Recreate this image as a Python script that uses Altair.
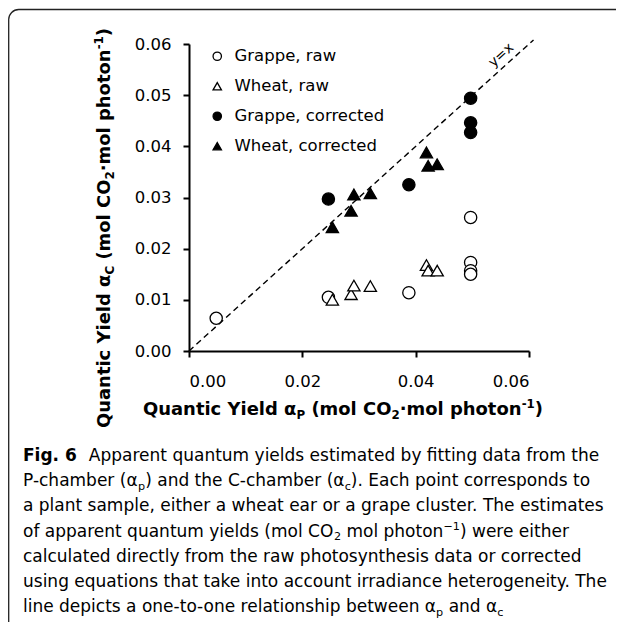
import os, glob, struct
import altair as alt
import pandas as pd

# ---------------- data ----------------
series_names = ["Grappe, raw", "Wheat, raw", "Grappe, corrected", "Wheat, corrected"]

grappe_raw_ap = [0.0048, 0.0246, 0.0388, 0.0497, 0.0497, 0.0497, 0.0497]
grappe_raw_ac = [0.0064, 0.0105, 0.0114, 0.0261, 0.0173, 0.0157, 0.0150]

wheat_raw_ap = [0.0253, 0.0286, 0.0291, 0.0320, 0.0419, 0.0422, 0.0438]
wheat_raw_ac = [0.0100, 0.0111, 0.0128, 0.0127, 0.0168, 0.0157, 0.0157]

grappe_cor_ap = [0.0246, 0.0388, 0.0497, 0.0497, 0.0497]
grappe_cor_ac = [0.0297, 0.0325, 0.0494, 0.0446, 0.0427]

wheat_cor_ap = [0.0253, 0.0286, 0.0291, 0.0320, 0.0419, 0.0422, 0.0438]
wheat_cor_ac = [0.0242, 0.0274, 0.0306, 0.0308, 0.0388, 0.0362, 0.0365]

diag_ap = [0.0, 0.0608]
diag_ac = [0.0, 0.0608]

x_ticks = [0.0, 0.02, 0.04, 0.06]
y_ticks = [0.0, 0.01, 0.02, 0.03, 0.04, 0.05, 0.06]

# ---------------- font metrics (to lay out sub/superscript runs) ----------------
def find_font(patterns):
    roots = ["/usr/share/fonts", "/usr/local/share/fonts",
             os.path.expanduser("~/.fonts"), os.path.expanduser("~/.local/share/fonts")]
    for pat in patterns:
        for r in roots:
            hits = sorted(glob.glob(os.path.join(r, "**", pat), recursive=True))
            if hits:
                return hits[0]
    return None


class Metrics:
    def __init__(self, path, fallback=0.58):
        self.ok = False
        self.fallback = fallback
        if path:
            try:
                self._load(path)
                self.ok = True
            except Exception:
                self.ok = False

    def _load(self, path):
        d = open(path, "rb").read()
        n = struct.unpack(">H", d[4:6])[0]
        t = {}
        for i in range(n):
            tag, _, off, ln = struct.unpack(">4sIII", d[12 + 16 * i:28 + 16 * i])
            t[tag.decode("latin1")] = off
        self.upem = struct.unpack(">H", d[t["head"] + 18:t["head"] + 20])[0]
        nhm = struct.unpack(">H", d[t["hhea"] + 34:t["hhea"] + 36])[0]
        ho = t["hmtx"]
        self.adv = [struct.unpack(">H", d[ho + 4 * i:ho + 4 * i + 2])[0] for i in range(nhm)]
        co = t["cmap"]
        nsub = struct.unpack(">H", d[co + 2:co + 4])[0]
        best = None
        for i in range(nsub):
            pid, eid, so = struct.unpack(">HHI", d[co + 4 + 8 * i:co + 12 + 8 * i])
            fmt = struct.unpack(">H", d[co + so:co + so + 2])[0]
            if fmt == 4 and (best is None or (pid, eid) == (3, 1)):
                best = co + so
        s = best
        segx2 = struct.unpack(">H", d[s + 6:s + 8])[0]
        sc = segx2 // 2
        self.ends = struct.unpack(">%dH" % sc, d[s + 14:s + 14 + segx2])
        self.starts = struct.unpack(">%dH" % sc, d[s + 16 + segx2:s + 16 + 2 * segx2])
        self.deltas = struct.unpack(">%dh" % sc, d[s + 16 + 2 * segx2:s + 16 + 3 * segx2])
        self.rpos = s + 16 + 3 * segx2
        self.roffs = struct.unpack(">%dH" % sc, d[self.rpos:self.rpos + segx2])
        self.d = d

    def gid(self, c):
        for i, e in enumerate(self.ends):
            if e >= c:
                if self.starts[i] > c:
                    return 0
                if self.roffs[i] == 0:
                    return (c + self.deltas[i]) & 0xFFFF
                a = self.rpos + 2 * i + self.roffs[i] + 2 * (c - self.starts[i])
                g = struct.unpack(">H", self.d[a:a + 2])[0]
                return (g + self.deltas[i]) & 0xFFFF if g else 0
        return 0

    def width(self, text, size):
        if not self.ok:
            return len(text) * self.fallback * size
        w = 0
        for ch in text:
            g = self.gid(ord(ch))
            w += self.adv[min(g, len(self.adv) - 1)]
        return w * size / self.upem


AX_FONT = "DejaVu Sans"
CAP_FONT = "DejaVu Sans"
M = {
    (AX_FONT, False): Metrics(find_font(["DejaVuSans.ttf"]), 0.6),
    (AX_FONT, True): Metrics(find_font(["DejaVuSans-Bold.ttf"]), 0.68),
}

SUB_R, SUB_D, SUP_U = 0.66, 0.22, 0.38


def chain(parts, font, size, x0, y0, angle=0):
    out, pos = [], 0.0
    for text, kind, bold in parts:
        if isinstance(text, (int, float)):      # explicit gap in px
            pos += text
            continue
        m = M[(font, bold)]
        s = size if kind == "n" else size * SUB_R
        shift = 0 if kind == "n" else (SUB_D * size if kind == "sub" else -SUP_U * size)
        lead = len(text) - len(text.lstrip(" "))
        trail = len(text) - len(text.rstrip(" "))
        pos += lead * m.width(" ", s)
        core = text.strip(" ")
        if angle == 0:
            out.append((core, x0 + pos, y0 + shift, s, bold, 0, font))
        else:
            out.append((core, x0 + shift, y0 - pos, s, bold, 270, font))
        pos += m.width(core, s) + trail * m.width(" ", s)
    return out, pos


def run_width(parts, font, size):
    return chain(parts, font, size, 0, 0)[1]

# ---------------- layout ----------------
X0, Y0 = 189, 44          # page position of plot origin
W, H = 340, 307
PAD = {"left": X0 - 8, "top": Y0 - 8, "right": 608 - (X0 - 8) - W, "bottom": 614 - (Y0 - 8) - H}


def px(x):
    return x - X0


def py(y):
    return y - Y0


title_parts_x = [("Quantic Yield α", "n", True), ("P", "sub", True), (" (mol CO", "n", True),
                 ("2", "sub", True), ("·mol photon", "n", True), ("-1", "sup", True), (")", "n", True)]
title_parts_y = [("Quantic Yield α", "n", True), ("C", "sub", True), (" (mol CO", "n", True),
                 ("2", "sub", True), ("·mol photon", "n", True), ("-1", "sup", True), (")", "n", True)]
t_size = 400.0 / run_width(title_parts_x, AX_FONT, 1.0)
t_size = max(12.0, min(t_size, 18.0))

segs = []
segs += chain(title_parts_x, AX_FONT, t_size, 143, 415)[0]
segs += chain(title_parts_y, AX_FONT, t_size, 110, 428, angle=270)[0]

cap_lines = [
    [("Fig. 6", "n", True), (12, "gap", False), ("Apparent quantum yields estimated by fitting data from the", "n", False)],
    [("P-chamber (α", "n", False), ("p", "sub", False), (") and the C-chamber (α", "n", False),
     ("c", "sub", False), ("). Each point corresponds to", "n", False)],
    [("a plant sample, either a wheat ear or a grape cluster. The estimates", "n", False)],
    [("of apparent quantum yields (mol CO", "n", False), ("2", "sub", False),
     (" mol photon", "n", False), ("−1", "sup", False), (") were either", "n", False)],
    [("calculated directly from the raw photosynthesis data or corrected", "n", False)],
    [("using equations that take into account irradiance heterogeneity. The", "n", False)],
    [("line depicts a one-to-one relationship between α", "n", False), ("p", "sub", False),
     (" and α", "n", False), ("c", "sub", False)],
]
c_size = 588.0 / run_width(cap_lines[5], CAP_FONT, 1.0)
c_size = max(12.0, min(c_size, 20.0))
L = [461, 486, 511, 536.5, 562, 587, 612]
for ln, yb in zip(cap_lines, L):
    segs += chain(ln, CAP_FONT, c_size, 23, yb)[0]

# ---------------- data frames ----------------
rows = []
for name, xs, ys in zip(series_names,
                        [grappe_raw_ap, wheat_raw_ap, grappe_cor_ap, wheat_cor_ap],
                        [grappe_raw_ac, wheat_raw_ac, grappe_cor_ac, wheat_cor_ac]):
    for a, b in zip(xs, ys):
        rows.append({"series": name, "ap": a, "ac": b})
df = pd.DataFrame(rows)
diag_df = pd.DataFrame({"ap": diag_ap, "ac": diag_ac})
one = pd.DataFrame({"k": [0]})

xscale = alt.Scale(domain=[0, 0.06], nice=False, zero=False)
yscale = alt.Scale(domain=[0, 0.06], nice=False, zero=False)

leg = alt.Legend(title=None, orient="none", legendX=20, legendY=4, padding=0,
                 labelFont=AX_FONT, labelFontSize=16.5, labelColor="black",
                 symbolSize=70, symbolStrokeWidth=1.3,
                 rowPadding=13, labelOffset=9)

points = alt.Chart(df).mark_point(filled=True, size=150,
                                  strokeWidth=1.3, opacity=1).encode(
    x=alt.X("ap:Q", scale=xscale,
            axis=alt.Axis(values=x_ticks, format=".2f", title="", labelPadding=16)),
    y=alt.Y("ac:Q", scale=yscale,
            axis=alt.Axis(values=y_ticks, format=".2f", title="", labelPadding=12)),
    shape=alt.Shape("series:N", scale=alt.Scale(domain=series_names,
                    range=["circle", "triangle-up", "circle", "triangle-up"]), legend=leg),
    fill=alt.Fill("series:N", scale=alt.Scale(domain=series_names,
                  range=["white", "white", "black", "black"]), legend=leg),
    stroke=alt.Stroke("series:N", scale=alt.Scale(domain=series_names,
                      range=["black", "black", "black", "black"]), legend=leg),
)

diag = alt.Chart(diag_df).mark_line(color="black", strokeWidth=1.4,
                                    strokeDash=[6, 4], clip=False).encode(
    x=alt.X("ap:Q", scale=xscale), y=alt.Y("ac:Q", scale=yscale))

yx_df = pd.DataFrame({"ap": [0.0551], "ac": [0.0578], "t": ["y=x"]})
yx = alt.Chart(yx_df).mark_text(font=AX_FONT, fontSize=14, angle=318, color="black").encode(
    x=alt.X("ap:Q", scale=xscale), y=alt.Y("ac:Q", scale=yscale), text="t:N")

border = alt.Chart(one).mark_rect(fill="white", fillOpacity=0, stroke="#222",
                                  strokeWidth=1.3, cornerRadiusTopLeft=10).encode(
    x=alt.value(px(8.7)), x2=alt.value(px(900)), y=alt.value(py(9.5)), y2=alt.value(py(900)))

text_layers = []
for (t, x, y, s, b, a, f) in segs:
    if not t:
        continue
    props = dict(text=t, font=f, fontSize=round(s, 2), align="left", baseline="alphabetic",
                 color="black", fontWeight="bold" if b else "normal")
    if a:
        props["angle"] = a
    text_layers.append(alt.Chart(one).mark_text(**props).encode(
        x=alt.value(round(px(x), 2)), y=alt.value(round(py(y), 2))))

chart = alt.layer(border, diag, points, yx, *text_layers).properties(
    width=W, height=H, padding=PAD,
    autosize=alt.AutoSizeParams(type="none"),
).configure_view(strokeWidth=0).configure_axis(
    domainColor="black", domainWidth=2, tickColor="black", tickWidth=2, tickSize=6,
    labelFont=AX_FONT, labelFontSize=16.5, labelColor="black", grid=False,
)

chart.save("out.html", embed_options={"renderer": "svg", "actions": False})
